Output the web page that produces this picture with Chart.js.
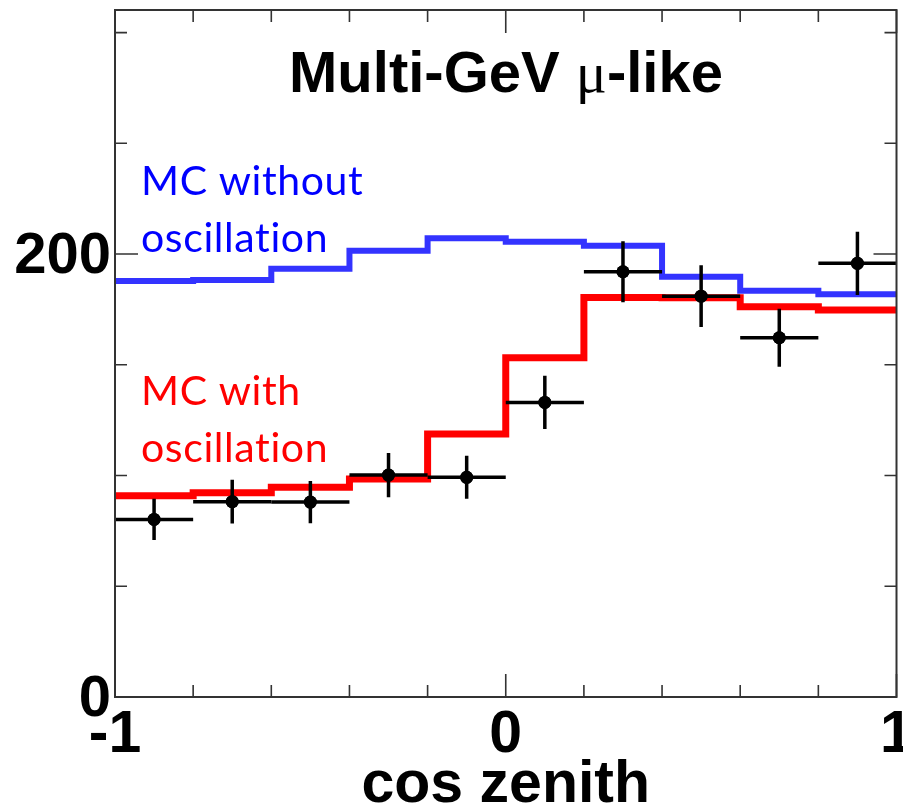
<!DOCTYPE html>
<html>
<head>
<meta charset="utf-8">
<script src="https://cdn.jsdelivr.net/npm/chart.js@4/dist/chart.umd.min.js"></script>
<style>
  html, body { margin: 0; padding: 0; background: #fff; }
  #wrap { width: 903px; height: 806px; }
</style>
</head>
<body>
<div id="wrap"><canvas id="chart" width="903" height="806"></canvas></div>
<script>
// bins in cos zenith
const binLow = [-1, -0.8, -0.6, -0.4, -0.2, 0, 0.2, 0.4, 0.6, 0.8];
const binCenter = [-0.9, -0.7, -0.5, -0.3, -0.1, 0.1, 0.3, 0.5, 0.7, 0.9];
const xEnd = 1;

// histograms
const mcNoOsc = [187.8, 188.3, 193.4, 201.5, 207.1, 205.6, 203.8, 189.8, 183.4, 181.9];
const mcOsc = [90.9, 92.2, 94.7, 98.4, 118.7, 153.2, 180.4, 180.3, 176.2, 174.7];
const dataVal = [80.2, 88.2, 88.0, 100.2, 99.2, 133.0, 192.0, 181.0, 162.2, 195.8];
const dataErr = [9.3, 9.9, 9.5, 10.0, 9.7, 12.0, 13.8, 13.9, 13.1, 14.3];

// axes
const yMin = 0, yMax = 310.2;
const yMajorTicks = [0, 200];
const yMinorTicks = [50, 100, 150, 250, 300];
const xMajorTicks = [-1, 0, 1];
const xMinorTicks = [-0.8, -0.6, -0.4, -0.2, 0.2, 0.4, 0.6, 0.8];
const yTickLabels = ['0', '200'];
const xTickLabels = ['-1', '0', '1'];
const xTitle = 'cos zenith';

function histPoints(vals) {
    const pts = binLow.map((x, i) => ({ x: x, y: vals[i] }));
    pts.push({ x: xEnd, y: vals[vals.length - 1] });
    return pts;
}

const errorBars = {
    id: 'errorBars',
    afterDatasetsDraw(chart) {
        const ctx = chart.ctx;
        const xs = chart.scales.x, ys = chart.scales.y;
        ctx.save();
        ctx.strokeStyle = '#000';
        ctx.lineWidth = 3.5;
        binCenter.forEach((c, i) => {
            const px = xs.getPixelForValue(c);
            const py = ys.getPixelForValue(dataVal[i]);
            ctx.beginPath();
            ctx.moveTo(xs.getPixelForValue(c - 0.1), py);
            ctx.lineTo(xs.getPixelForValue(c + 0.1), py);
            ctx.moveTo(px, ys.getPixelForValue(dataVal[i] - dataErr[i]));
            ctx.lineTo(px, ys.getPixelForValue(dataVal[i] + dataErr[i]));
            ctx.stroke();
            ctx.beginPath();
            ctx.arc(px, py, 6.5, 0, Math.PI * 2);
            ctx.fillStyle = '#000';
            ctx.fill();
        });
        ctx.restore();
    }
};

// frame, inward ticks, labels, annotations
const frame = {
    id: 'frame',
    afterDraw(chart) {
        const ctx = chart.ctx;
        const a = chart.chartArea;
        const xs = chart.scales.x, ys = chart.scales.y;
        ctx.save();
        ctx.strokeStyle = '#333';
        ctx.lineWidth = 2;
        ctx.strokeRect(a.left, a.top, a.right - a.left, a.bottom - a.top);

        ctx.lineWidth = 1.6;
        ctx.beginPath();
        const tickY = (v, len) => {
            const p = ys.getPixelForValue(v);
            ctx.moveTo(a.left, p); ctx.lineTo(a.left + len, p);
            ctx.moveTo(a.right, p); ctx.lineTo(a.right - len, p);
        };
        const tickX = (v, len) => {
            const p = xs.getPixelForValue(v);
            ctx.moveTo(p, a.bottom); ctx.lineTo(p, a.bottom - len);
            ctx.moveTo(p, a.top); ctx.lineTo(p, a.top + len);
        };
        yMinorTicks.forEach(v => tickY(v, 12));
        yMajorTicks.forEach(v => tickY(v, 23));
        xMinorTicks.forEach(v => tickX(v, 12));
        xMajorTicks.forEach(v => tickX(v, 23));
        ctx.stroke();

        ctx.fillStyle = '#000';
        ctx.font = 'bold 58px "Liberation Sans", Arial, sans-serif';
        ctx.textAlign = 'right';
        ctx.textBaseline = 'alphabetic';
        yMajorTicks.forEach((v, i) => {
            ctx.fillText(yTickLabels[i], a.left - 4, ys.getPixelForValue(v) + 19);
        });
        ctx.font = 'bold 59px "Liberation Sans", Arial, sans-serif';
        ctx.textAlign = 'center';
        xMajorTicks.forEach((v, i) => {
            ctx.fillText(xTickLabels[i], xs.getPixelForValue(v), a.bottom + 55);
        });
        ctx.font = 'bold 59px "Liberation Sans", Arial, sans-serif';
        ctx.fillText(xTitle, (a.left + a.right) / 2, 802);

        // title: bold sans with serif mu
        const boldF = 'bold 58px "Liberation Sans", Arial, sans-serif';
        const muF = '58px "Liberation Serif", "Times New Roman", serif';
        const parts = [['Multi-GeV ', boldF], ['\u03bc', muF], ['-like', boldF]];
        let total = 0;
        parts.forEach(p => { ctx.font = p[1]; total += ctx.measureText(p[0]).width; });
        let x = 506 - total / 2;
        ctx.textAlign = 'left';
        parts.forEach(p => {
            ctx.font = p[1];
            ctx.fillText(p[0], x, 92);
            x += ctx.measureText(p[0]).width;
        });

        // annotations, no ligatures
        ctx.font = '41px Lato, "Open Sans", sans-serif';
        if ('letterSpacing' in ctx) ctx.letterSpacing = '0.6px';
        ctx.fillStyle = '#0000ff';
        ctx.fillText('MC without', 141, 195);
        ctx.fillText('oscillation', 141, 252);
        ctx.fillStyle = '#ff0000';
        ctx.fillText('MC with', 141, 405);
        ctx.fillText('oscillation', 141, 462);
        ctx.restore();
    }
};

new Chart(document.getElementById('chart'), {
    type: 'line',
    data: {
        datasets: [
            {
                label: 'MC without oscillation',
                data: histPoints(mcNoOsc),
                borderColor: '#3333ff',
                borderWidth: 6,
                stepped: true,
                pointRadius: 0,
                fill: false,
                order: 2
            },
            {
                label: 'MC with oscillation',
                data: histPoints(mcOsc),
                borderColor: '#ff0000',
                borderWidth: 7,
                stepped: true,
                pointRadius: 0,
                fill: false,
                order: 1
            },
            {
                label: 'Data',
                data: binCenter.map((x, i) => ({ x: x, y: dataVal[i] })),
                showLine: false,
                pointRadius: 6.5,
                pointBackgroundColor: '#000',
                pointBorderWidth: 0,
                order: 0
            }
        ]
    },
    options: {
        responsive: false,
        animation: false,
        layout: { padding: { left: 115, top: 10, right: 5, bottom: 109 } },
        plugins: { legend: { display: false }, tooltip: { enabled: false } },
        scales: {
            x: { type: 'linear', min: -1, max: 1, display: false },
            y: { type: 'linear', min: yMin, max: yMax, display: false }
        }
    },
    plugins: [errorBars, frame]
});
</script>
</body>
</html>
